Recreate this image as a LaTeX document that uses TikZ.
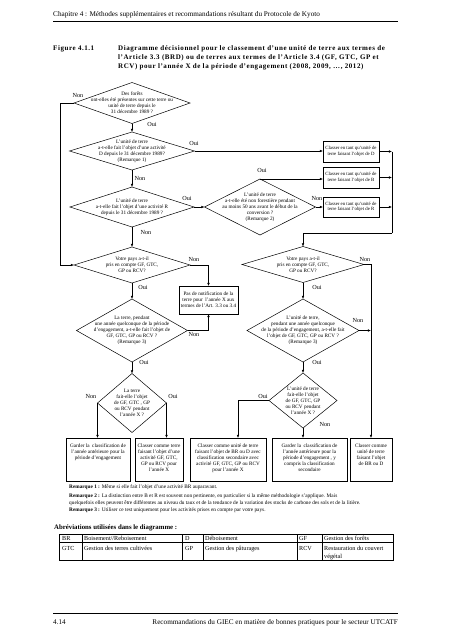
\documentclass[tikz,border=0pt]{standalone}
\usepackage{fontspec}
\setmainfont{Liberation Serif}
\newfontfamily\titlefont[LetterSpace=8]{Liberation Serif}
\usetikzlibrary{shapes.geometric,arrows.meta}
\begin{document}
\begin{tikzpicture}[x=1pt,y=-1pt,
  dia/.style={draw, diamond, inner sep=0pt, outer sep=0pt, line width=0.5pt},
  dtxt/.style={align=center, inner sep=0pt, font=\fontsize{5.2}{6}\selectfont},
  bx/.style={draw, rectangle, inner sep=0pt, outer sep=0pt, line width=0.9pt},
  btxt/.style={align=center, inner sep=0pt, font=\fontsize{5.2}{5.8}\selectfont},
  stxt/.style={align=center, inner sep=0pt, font=\fontsize{4.8}{5.6}\selectfont},
  lab/.style={inner sep=0pt, font=\fontsize{6.2}{7}\selectfont},
  conn/.style={line width=0.5pt, -{Latex[length=3.2pt,width=2.6pt]}},
  ln/.style={line width=0.5pt},
  plain/.style={inner sep=0pt, anchor=base west},
  ]
\useasboundingbox[fill=white] (0,0) rectangle (452,640);

% header
\node[plain, font=\fontsize{7.2}{8}\selectfont] (hdr) at (53,16.5) {Chapitre 4 : Méthodes supplémentaires et recommandations résultant du Protocole de Kyoto};
\draw[line width=0.8pt] (53,21.5) -- (398,21.5);
\node[plain, font=\titlefont\bfseries\fontsize{7}{8}\selectfont] (fig) at (53,50.5) {Figure 4.1.1};
\node[plain, font=\titlefont\bfseries\fontsize{7}{8}\selectfont] (t1) at (118,50.5) {Diagramme décisionnel pour le classement d’une unité de terre aux termes de};
\node[plain, font=\titlefont\bfseries\fontsize{7}{8}\selectfont] (t2) at (118,59.3) {l’Article 3.3 (BRD) ou de terres aux termes de l’Article 3.4 (GF, GTC, GP et};
\node[plain, font=\titlefont\bfseries\fontsize{7}{8}\selectfont] (t3) at (118,68) {RCV) pour l’année X de la période d’engagement (2008, 2009, …, 2012)};

% diamonds
\node[dia, minimum width=116pt, minimum height=41pt] (d1) at (132,103) {};
\node[dtxt] at (d1) {Des forêts\\ont-elles été présentes sur cette terre ou\\unité de terre depuis le\\31 décembre 1989 ?};
\node[dia, minimum width=125pt, minimum height=38pt] (d2) at (132,151) {};
\node[dtxt] at (d2) {L’unité de terre\\a-t-elle fait l’objet d’une activité\\D depuis le 31 décembre 1989?\\(Remarque 1)};
\node[dia, minimum width=124pt, minimum height=40pt] (d3) at (132,207) {};
\node[dtxt] at (d3) {L’unité de terre\\a-t-elle fait l’objet d’une activité R\\depuis le 31 décembre 1989 ?};
\node[dia, minimum width=111pt, minimum height=56pt] (d4) at (260,207) {};
\node[dtxt] at (d4) {L’unité de terre\\a-t-elle été non forestière pendant\\au moins 50 ans avant le début de la\\conversion ?\\(Remarque 2)};
\node[dia, minimum width=116pt, minimum height=36pt] (d5) at (132,265) {};
\node[dtxt] at (d5) {Votre pays a-t-il\\pris en compte GF, GTC,\\GP ou RCV?};
\node[dia, minimum width=111pt, minimum height=63pt] (d6) at (132,330.5) {};
\node[dtxt] at (d6) {La terre, pendant\\une année quelconque de la période\\d’engagement, a-t-elle fait l’objet de\\GF, GTC, GP ou RCV ?\\(Remarque 3)};
\node[dia, minimum width=69pt, minimum height=59pt] (d7) at (132,403) {};
\node[dtxt] at (d7) {La terre\\fait-elle l’objet\\de GF, GTC , GP\\ou RCV pendant\\l’année X ?};
\node[dia, minimum width=122pt, minimum height=36pt] (d8) at (303,264.5) {};
\node[dtxt] at (d8) {Votre pays a-t-il\\pris en compte GF, GTC,\\GP ou RCV?};
\node[dia, minimum width=112pt, minimum height=63pt] (d9) at (303,330.5) {};
\node[dtxt] at (d9) {L’unité de terre,\\pendant une année quelconque\\de la période d’engagement, a-t-elle fait\\l’objet de GF, GTC, GP ou RCV ?\\(Remarque 3)};
\node[dia, minimum width=68pt, minimum height=55pt] (d10) at (303,400.5) {};
\node[dtxt] at (d10) {L’unité de terre\\fait-elle l’objet\\de GF, GTC, GP\\ou RCV pendant\\l’année X ?};

% boxes
\node[bx, minimum width=56pt, minimum height=21pt] (bD) at (351,151.5) {};
\node[stxt] at (bD) {Classer en tant qu’unité de\\terre faisant l’objet de D};
\node[bx, minimum width=56pt, minimum height=21pt] (bB) at (351,177.5) {};
\node[stxt] at (bB) {Classer en tant qu’unité de\\terre faisant l’objet de B};
\node[bx, minimum width=56pt, minimum height=20pt] (bR) at (351,207) {};
\node[stxt] at (bR) {Classer en tant qu’unité de\\terre faisant l’objet de R};
\node[bx, minimum width=59pt, minimum height=28pt] (bP) at (208.5,300) {};
\node[btxt] at (bP) {Pas de notification de la\\terre pour \ l’année X aux\\termes de l’Art. 3.3 ou 3.4};

\node[bx, minimum width=64pt, minimum height=43pt] (g1) at (98,459.5) {};
\node[btxt, anchor=north] at (98,444) {Garder la \ classification de\\l’année antérieure pour la\\période d’engagement};
\node[bx, minimum width=48pt, minimum height=43pt] (c1) at (159,459.5) {};
\node[btxt, anchor=north] at (159,444) {Classer comme terre\\faisant l’objet d’une\\activité GF, GTC,\\GP ou RCV pour\\l’année X};
\node[bx, minimum width=76pt, minimum height=43pt] (c2) at (228,459.5) {};
\node[btxt, anchor=north] at (228,444) {Classer comme unité de terre\\faisant l’objet de BR ou D avec\\classification secondaire avec\\activité GF, GTC, GP ou RCV\\pour l’année X};
\node[bx, minimum width=75pt, minimum height=43pt] (g2) at (309.5,459.5) {};
\node[btxt, anchor=north] at (309.5,444) {Garder la \ classification de\\l’année antérieure pour la\\période d’engagement , y\\compris la classification\\secondaire};
\node[bx, minimum width=42pt, minimum height=43pt] (c3) at (371,459.5) {};
\node[btxt, anchor=north] at (371,444) {Classer comme\\unité de terre\\faisant l’objet\\de BR ou D};

% helper coordinates
\coordinate (lx) at (60,0);
\coordinate (rx) at (392,0);
\coordinate (jn) at (392,233);
\coordinate (cx2) at (238,0);

% connectors
\draw[conn] (d1.west) -- (d1.west -| lx) |- (d5.west);
\draw[conn] (d1.south) -- (d2.north);
\draw[conn] (d2.east) -- (d2.east -| bD.west);
\draw[conn] (d2.south) -- (d3.north);
\draw[conn] (d3.east) -- (d4.west);
\draw[conn] (d4.north) -- (d4.north -| bB.west);
\draw[conn] (d4.east) -- (bR.west);
\draw[conn] (bD.east) -- (bD.east -| rx);
\draw[conn] (bB.east) -- (bB.east -| rx);
\draw[conn] (bR.east) -- (bR.east -| rx);
\draw[ln] (bD.east -| rx) -- (jn);
\draw[conn] (jn) -| (d8.north);
\draw[conn] (d3.south) -- (d5.north);
\draw[conn] (d5.east) -| (bP.north);
\draw[conn] (d5.south) -- (d6.north);
\draw[conn] (d6.east) -| (bP.south);
\draw[conn] (d6.south) -- (d7.north);
\draw[conn] (d7.west) -- (d7.west |- g1.north);
\draw[conn] (d7.east) -- (d7.east |- c1.north);
\draw[conn] (d8.east) -| (c3.north);
\draw[conn] (d8.south) -- (d9.north);
\draw[conn] (d9.east) -- (d9.east -| c3.north);
\draw[conn] (d9.south) -- (d10.north);
\draw[conn] (d10.west) -| (cx2 |- c2.north);
\draw[conn] (d10.south) -- (d10.south |- g2.north);

% labels
\node[lab] at (78,95) {Non};
\node[lab] at (152,124) {Oui};
\node[lab] at (194,143) {Oui};
\node[lab] at (140,178) {Non};
\node[lab] at (187,198) {Oui};
\node[lab] at (146,232) {Non};
\node[lab] at (262,170) {Oui};
\node[lab] at (317,198) {Non};
\node[lab] at (194,259) {Non};
\node[lab] at (143,287) {Oui};
\node[lab] at (194,334) {Non};
\node[lab] at (144,362) {Oui};
\node[lab] at (365,259) {Non};
\node[lab] at (317,287) {Oui};
\node[lab] at (358,320) {Non};
\node[lab] at (317,362) {Oui};
\node[lab] at (91,396) {Non};
\node[lab] at (173,396) {Oui};
\node[lab] at (263,396) {Oui};
\node[lab] at (325,424) {Non};

% remarks
\node[plain, font=\fontsize{5.3}{6}\selectfont] (r1) at (69,488.8) {\textbf{Remarque 1 :} Même si elle fait l’objet d’une activité BR auparavant.};
\node[plain, font=\fontsize{5.3}{6}\selectfont] (r2) at (69,497.2) {\textbf{Remarque 2 :} La distinction entre B et R est souvent non pertinente, en particulier si la même méthodologie s’applique. Mais};
\node[plain, font=\fontsize{5.3}{6}\selectfont] (r2b) at (69,504.8) {quelquefois elles peuvent être différentes au niveau du taux et de la tendance de la variation des stocks de carbone des sols et de la litière.};
\node[plain, font=\fontsize{5.3}{6}\selectfont] (r3) at (69,511.5) {\textbf{Remarque 3 :} Utiliser ce test uniquement pour les activités prises en compte par votre pays.};

% abbreviations
\node[plain, font=\bfseries\fontsize{6.8}{8}\selectfont] (abr) at (54,529.3) {Abréviations utilisées dans le diagramme :};
\draw[line width=0.9pt] (59,534) rectangle (393,560);
\draw[line width=0.9pt] (59,542) -- (393,542);
\foreach \xx in {82,182,203,297,322} \draw[line width=0.9pt] (\xx,534) -- (\xx,560);
\begin{scope}[every node/.style={plain, font=\fontsize{6.2}{7}\selectfont}]
\node (a1) at (62,540.3) {BR};
\node (a2) at (84,540.3) {Boisement//Reboisement};
\node (a3) at (185,540.3) {D};
\node (a4) at (205,540.3) {Déboisement};
\node (a5) at (299,540.3) {GF};
\node (a6) at (324,540.3) {Gestion des forêts};
\node (b1) at (62,550) {GTC};
\node (b2) at (84,550) {Gestion des terres cultivées};
\node (b3) at (185,550) {GP};
\node (b4) at (205,550) {Gestion des pâturages};
\node (b5) at (299,550) {RCV};
\node (b6) at (324,550) {Restauration du couvert};
\node (b7) at (324,558.3) {végétal};
\end{scope}

% footer
\draw[line width=0.8pt] (53,613) -- (398,613);
\node[plain, font=\fontsize{7.2}{8}\selectfont] (pg) at (53,624.5) {4.14};
\node[inner sep=0pt, anchor=base east, font=\fontsize{7.2}{8}\selectfont] (ft) at (398,624.5) {Recommandations du GIEC en matière de bonnes pratiques pour le secteur UTCATF};
\end{tikzpicture}
\end{document}
